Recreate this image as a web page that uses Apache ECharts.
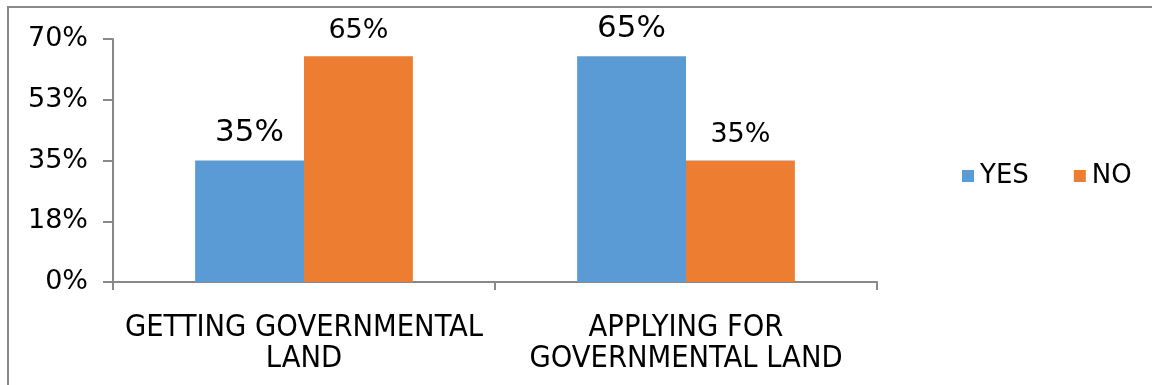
<!DOCTYPE html>
<html>
<head>
<meta charset="utf-8">
<script src="https://cdn.jsdelivr.net/npm/echarts@6/dist/echarts.min.js"></script>
<style>
  html, body { margin: 0; padding: 0; background: #fff; }
  #chart { width: 1152px; height: 385px; }
</style>
</head>
<body>
<div id="chart"></div>
<script>
var categories = ['GETTING GOVERNMENTAL\nLAND', 'APPLYING FOR\nGOVERNMENTAL LAND'];
var yesValues = [35, 65];
var noValues = [65, 35];
var seriesNames = ['YES', 'NO'];
var yTicks = [0, 17.5, 35, 52.5, 70];

var axisGray = '#898989';
var font = 'DejaVu Sans';

var myChart = echarts.init(document.getElementById('chart'));
var option = {
    animation: false,
    graphic: [{
        type: 'rect',
        shape: { x: 8, y: 7, width: 1300, height: 600 },
        style: { fill: 'none', stroke: axisGray, lineWidth: 2 },
        silent: true
    }],
    legend: {
        data: seriesNames,
        icon: 'rect',
        itemWidth: 12,
        itemHeight: 12,
        itemGap: 45,
        left: 957,
        top: 158,
        textStyle: { fontFamily: font, fontSize: 26, color: '#000', padding: [0, 0, 0, 1] }
    },
    grid: {
        left: 113,
        right: 275,
        top: 39,
        bottom: 103
    },
    xAxis: {
        type: 'category',
        data: categories,
        axisLine: { lineStyle: { color: axisGray, width: 2 } },
        axisTick: { show: true, length: 8, lineStyle: { color: axisGray, width: 2 } },
        axisLabel: {
            interval: 0,
            fontFamily: 'DejaVu Sans Condensed',
            fontSize: 30.5,
            lineHeight: 31,
            color: '#000',
            margin: 31
        }
    },
    yAxis: {
        type: 'value',
        min: yTicks[0],
        max: yTicks[yTicks.length - 1],
        interval: yTicks[1] - yTicks[0],
        axisLine: { show: true, lineStyle: { color: axisGray, width: 2 } },
        axisTick: { show: true, length: 10, lineStyle: { color: axisGray, width: 2 } },
        splitLine: { show: false },
        axisLabel: {
            fontFamily: font,
            fontSize: 27,
            color: '#000',
            margin: 25,
            formatter: function (v) { return Math.round(v) + '%'; }
        }
    },
    series: [{
        name: seriesNames[0],
        type: 'bar',
        data: yesValues,
        barGap: '0%',
        barCategoryGap: '43%',
        itemStyle: { color: '#5B9BD5' },
        label: {
            show: true,
            position: 'top',
            distance: 12,
            fontFamily: font,
            fontSize: 31,
            color: '#000',
            formatter: '{c}%'
        }
    }, {
        name: seriesNames[1],
        type: 'bar',
        data: noValues,
        barGap: '0%',
        barCategoryGap: '43%',
        itemStyle: { color: '#ED7D31' },
        label: {
            show: true,
            position: 'top',
            distance: 12,
            fontFamily: font,
            fontSize: 27,
            color: '#000',
            formatter: '{c}%'
        }
    }]
};
myChart.setOption(option);
</script>
</body>
</html>
